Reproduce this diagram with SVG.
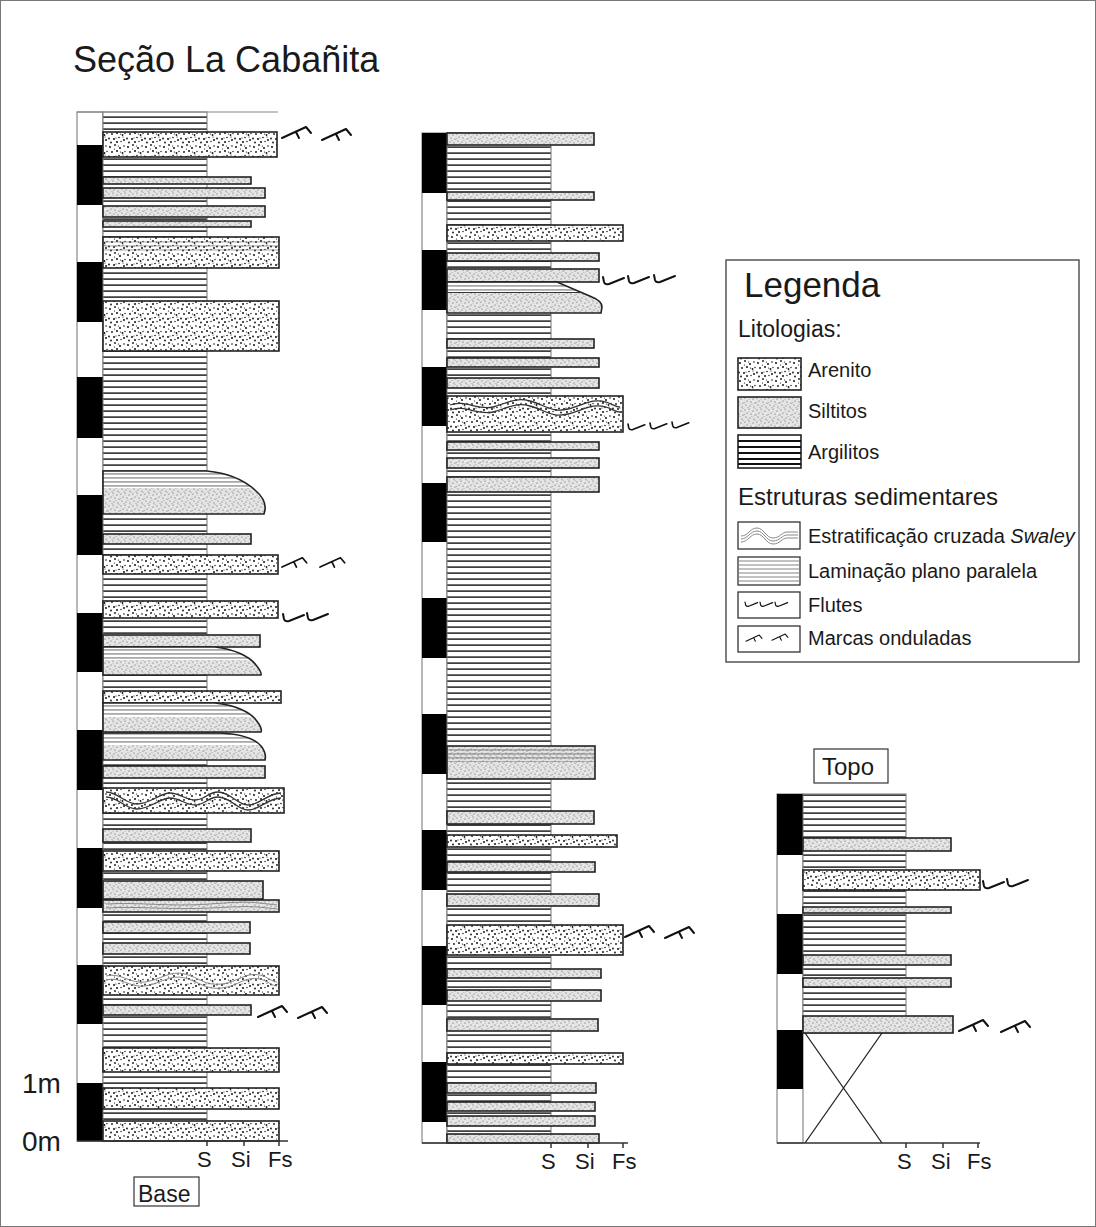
<svg xmlns="http://www.w3.org/2000/svg" xmlns:xlink="http://www.w3.org/1999/xlink" width="1096" height="1227" viewBox="0 0 1096 1227">
<style>
text{font-family:"Liberation Sans",Arial,sans-serif;fill:#1a1a1a}
.ar{fill:url(#pAr);stroke:#222;stroke-width:1.6}
.si{fill:url(#pSi);stroke:#222;stroke-width:1.6}
.arg{fill:url(#pArg);stroke:#777;stroke-width:1}
.bar{fill:#fff;stroke:#888;stroke-width:1.2}
.blk{fill:#000}
.ax{stroke:#333;stroke-width:1.5;fill:none}
.out{fill:none;stroke:#222;stroke-width:1.6}
.wv{fill:none;stroke:#333;stroke-width:1.3}
.wvl{fill:none;stroke:#888;stroke-width:1}
.lam{fill:url(#pLam)}
.lg{font-size:20px}
</style>
<defs>
<pattern id="pArg" width="10" height="6" patternUnits="userSpaceOnUse"><rect width="10" height="6" fill="#fff"/><rect y="2.4" width="10" height="1.4" fill="#111"/></pattern>
<pattern id="pLam" width="10" height="4" patternUnits="userSpaceOnUse"><rect y="1.5" width="10" height="0.9" fill="#555"/></pattern>
<pattern id="pAr" width="18" height="18" patternUnits="userSpaceOnUse">
<rect width="18" height="18" fill="#fff"/>
<g fill="#111">
<circle cx="2" cy="3" r="1"/><circle cx="7" cy="1" r="0.9"/><circle cx="12" cy="4" r="1"/><circle cx="16" cy="2" r="0.8"/>
<circle cx="4" cy="8" r="0.9"/><circle cx="9" cy="7" r="1"/><circle cx="14.5" cy="9" r="0.9"/><circle cx="1" cy="12.5" r="0.9"/>
<circle cx="6" cy="13" r="1"/><circle cx="11" cy="11.5" r="0.8"/><circle cx="16" cy="14" r="1"/><circle cx="3" cy="16.5" r="0.9"/>
<circle cx="9" cy="16" r="1"/><circle cx="13" cy="15.5" r="0.7"/><circle cx="17" cy="7.5" r="0.7"/><circle cx="10.5" cy="2" r="0.6"/>
<circle cx="6.5" cy="5" r="0.6"/><circle cx="12.5" cy="8" r="0.6"/><circle cx="8" cy="12" r="0.6"/><circle cx="15" cy="11" r="0.6"/>
</g></pattern>
<pattern id="pSi" width="12" height="12" patternUnits="userSpaceOnUse">
<rect width="12" height="12" fill="#e4e4e4"/>
<g fill="#555">
<circle cx="1" cy="2" r="0.6"/><circle cx="5" cy="1" r="0.55"/><circle cx="9" cy="3" r="0.6"/><circle cx="3" cy="5" r="0.55"/>
<circle cx="7" cy="6" r="0.6"/><circle cx="11" cy="7" r="0.55"/><circle cx="2" cy="9" r="0.6"/><circle cx="6" cy="10" r="0.55"/>
<circle cx="10" cy="11" r="0.6"/><circle cx="4" cy="11.5" r="0.45"/>
</g>
<g fill="#999"><circle cx="8" cy="8.5" r="0.5"/><circle cx="0.5" cy="6.5" r="0.5"/><circle cx="11" cy="0.5" r="0.5"/><circle cx="5" cy="3.5" r="0.45"/></g>
<g fill="#fff"><circle cx="3" cy="2.5" r="0.6"/><circle cx="9.5" cy="5.5" r="0.6"/><circle cx="6.5" cy="12" r="0.5"/></g>
</pattern>
<path id="rip" d="M0,13 L24,2 L29,8 M14,7 L17,13" fill="none" stroke="#111" stroke-width="2" stroke-linecap="round" stroke-linejoin="round"/>
<path id="flt" d="M0,0 L1,5 Q2,8 6,7 L21,1" fill="none" stroke="#111" stroke-width="2" stroke-linecap="round" stroke-linejoin="round"/>
<clipPath id="cA"><path d="M103,471 H207 C228,473 245,481 255,490 C262,496 266,503 265,510 L264,514 H103 Z"/></clipPath>
<clipPath id="cB"><path d="M103,647 H215 C235,649 250,657 256,665 C260,670 262,673 261,675 H103 Z"/></clipPath>
<clipPath id="cC"><path d="M103,703 H215 C235,705 250,712 256,720 C260,725 262,730 261,732 H103 Z"/></clipPath>
<clipPath id="cD"><path d="M103,733 H220 C240,734 255,739 261,746 C265,751 266,756 265,760 H103 Z"/></clipPath>
<clipPath id="cE"><path d="M447,282 H557 L592,297 Q602,301 602,307 L601,313 H447 Z"/></clipPath>
</defs>

<rect x="0.5" y="0.5" width="1095" height="1226" fill="#fff" stroke="#777" stroke-width="1"/>

<g id="title"><text x="73" y="72" font-size="36">Seção La Cabañita</text></g>

<g id="col1">
<rect class="bar" x="77" y="112" width="26" height="1029"/>
<rect class="blk" x="77" y="145" width="26" height="60"/>
<rect class="blk" x="77" y="262" width="26" height="60"/>
<rect class="blk" x="77" y="377" width="26" height="61"/>
<rect class="blk" x="77" y="495" width="26" height="60"/>
<rect class="blk" x="77" y="613" width="26" height="59"/>
<rect class="blk" x="77" y="730" width="26" height="60"/>
<rect class="blk" x="77" y="848" width="26" height="60"/>
<rect class="blk" x="77" y="965" width="26" height="59"/>
<rect class="blk" x="77" y="1083" width="26" height="58"/>
<rect class="arg" x="103" y="112" width="104" height="1029"/>
<line x1="77" y1="112" x2="278" y2="112" stroke="#888" stroke-width="1.2"/>
<rect class="ar" x="103" y="132" width="174" height="25"/>
<rect class="si" x="103" y="177" width="148" height="7"/>
<rect class="si" x="103" y="188" width="162" height="10"/>
<rect class="si" x="103" y="206" width="162" height="11"/>
<rect class="si" x="103" y="221" width="148" height="6"/>
<rect class="ar" x="103" y="237" width="176" height="31"/>
<rect class="lam" x="104" y="239" width="174" height="13" opacity="0.6"/>
<rect class="ar" x="103" y="301" width="176" height="50"/>
<g clip-path="url(#cA)"><rect x="103" y="471" width="170" height="44" fill="#fff"/><rect class="lam" x="103" y="471" width="170" height="17"/><rect x="103" y="488" width="170" height="27" fill="url(#pSi)"/></g>
<path class="out" d="M103,471 H207 C228,473 245,481 255,490 C262,496 266,503 265,510 L264,514 H103 Z"/>
<rect class="si" x="103" y="534" width="148" height="10"/>
<rect class="ar" x="103" y="555" width="175" height="19"/>
<rect class="ar" x="103" y="601" width="175" height="17"/>
<rect class="si" x="103" y="635" width="157" height="12"/>
<g clip-path="url(#cB)"><rect x="103" y="647" width="170" height="30" fill="#fff"/><rect class="lam" x="103" y="647" width="170" height="13"/><rect x="103" y="660" width="170" height="16" fill="url(#pSi)"/></g>
<path class="out" d="M103,647 H215 C235,649 250,657 256,665 C260,670 262,673 261,675 H103 Z"/>
<rect class="ar" x="103" y="691" width="178" height="12"/>
<g clip-path="url(#cC)"><rect x="103" y="703" width="170" height="30" fill="#fff"/><rect class="lam" x="103" y="703" width="170" height="14"/><rect x="103" y="717" width="170" height="16" fill="url(#pSi)"/></g>
<path class="out" d="M103,703 H215 C235,705 250,712 256,720 C260,725 262,730 261,732 H103 Z"/>
<g clip-path="url(#cD)"><rect x="103" y="733" width="170" height="28" fill="#fff"/><rect class="lam" x="103" y="733" width="170" height="12"/><rect x="103" y="745" width="170" height="16" fill="url(#pSi)"/></g>
<path class="out" d="M103,733 H220 C240,734 255,739 261,746 C265,751 266,756 265,760 H103 Z"/>
<rect class="si" x="103" y="766" width="162" height="12"/>
<rect class="ar" x="103" y="788" width="181" height="25"/>
<path class="wv" d="M106,792 C118,792 125,804 137,804 C150,804 160,793 170,793 C180,793 185,800 195,800 C205,800 208,792 218,792 C230,792 238,805 248,805 C260,805 268,793 281,793"/>
<path class="wv" d="M106,797 C118,797 125,809 137,809 C150,809 160,798 170,798 C180,798 185,805 195,805 C205,805 208,797 218,797 C230,797 238,810 248,810 C260,810 268,798 281,798"/>
<rect class="si" x="103" y="829" width="148" height="13"/>
<rect class="ar" x="103" y="851" width="176" height="20"/>
<rect class="si" x="103" y="881" width="160" height="18"/>
<rect class="si" x="103" y="900" width="176" height="12"/>
<path class="wvl" d="M106,904 C140,902 170,907 210,904 S250,902 277,905"/>
<path class="wvl" d="M106,908 C140,906 170,910 210,908 S250,906 277,909"/>
<rect class="si" x="103" y="922" width="147" height="11"/>
<rect class="si" x="103" y="943" width="147" height="11"/>
<rect class="ar" x="103" y="966" width="176" height="29"/>
<path class="wvl" d="M106,976 C120,972 130,984 145,982 C160,980 170,970 185,974 C200,978 205,986 222,984 C238,982 245,972 260,975 C268,977 272,982 277,982"/>
<path class="wvl" d="M106,980 C120,976 130,988 145,986 C160,984 170,974 185,978 C200,982 205,990 222,988 C238,986 245,976 260,979 C268,981 272,986 277,986"/>
<rect class="si" x="103" y="1005" width="148" height="10"/>
<rect class="ar" x="103" y="1048" width="176" height="24"/>
<rect class="ar" x="103" y="1088" width="176" height="21"/>
<rect class="ar" x="103" y="1121" width="176" height="20"/>
<path class="ax" d="M77,1141 H288 M207,1141 V1146 M244,1141 V1146 M279,1141 V1146"/>
<use href="#rip" x="282" y="125"/>
<use href="#rip" x="322" y="127"/>
<use href="#rip" transform="translate(282,556) scale(0.85)"/>
<use href="#rip" transform="translate(320,556) scale(0.85)"/>
<use href="#flt" x="283" y="614"/>
<use href="#flt" x="307" y="613"/>
<use href="#rip" x="258" y="1004"/>
<use href="#rip" x="298" y="1005"/>
<text x="197" y="1167" font-size="22">S</text>
<text x="231" y="1167" font-size="22">Si</text>
<text x="268" y="1167" font-size="22">Fs</text>
<text x="22" y="1093" font-size="28">1m</text>
<text x="22" y="1151" font-size="28">0m</text>
</g>

<g id="base-label">
<rect x="134" y="1177" width="65" height="29" fill="#fff" stroke="#333" stroke-width="1.2"/>
<text x="138" y="1202" font-size="23">Base</text>
</g>

<g id="col2">
<rect class="bar" x="422" y="133" width="25" height="1010"/>
<rect class="blk" x="422" y="133" width="25" height="60"/>
<rect class="blk" x="422" y="250" width="25" height="60"/>
<rect class="blk" x="422" y="367" width="25" height="59"/>
<rect class="blk" x="422" y="483" width="25" height="59"/>
<rect class="blk" x="422" y="598" width="25" height="60"/>
<rect class="blk" x="422" y="714" width="25" height="60"/>
<rect class="blk" x="422" y="830" width="25" height="60"/>
<rect class="blk" x="422" y="946" width="25" height="59"/>
<rect class="blk" x="422" y="1062" width="25" height="60"/>
<rect class="arg" x="447" y="133" width="104" height="1010"/>
<rect class="si" x="447" y="133" width="147" height="12"/>
<rect class="si" x="447" y="192" width="147" height="8"/>
<rect class="ar" x="447" y="225" width="176" height="16"/>
<rect class="si" x="447" y="253" width="152" height="8"/>
<rect class="si" x="447" y="269" width="152" height="13"/>
<g clip-path="url(#cE)"><rect x="447" y="282" width="160" height="32" fill="#fff"/><rect class="lam" x="447" y="282" width="160" height="11"/><rect x="447" y="293" width="160" height="21" fill="url(#pSi)"/></g>
<path class="out" d="M447,282 H557 L592,297 Q602,301 602,307 L601,313 H447 Z"/>
<line x1="447" y1="292.5" x2="580" y2="292.5" stroke="#333" stroke-width="1"/>
<rect class="si" x="447" y="339" width="147" height="9"/>
<rect class="si" x="447" y="358" width="152" height="9"/>
<rect class="si" x="447" y="378" width="152" height="10"/>
<rect class="ar" x="447" y="396" width="176" height="36"/>
<path class="wv" d="M450,405 C465,399 478,411 493,407 C508,403 515,397 530,401 C545,405 552,413 568,409 C584,405 592,398 606,402 C612,404 616,407 620,407" stroke-width="1"/>
<path class="wv" d="M450,410 C465,404 478,416 493,412 C508,408 515,402 530,406 C545,410 552,418 568,414 C584,410 592,403 606,407 C612,409 616,412 620,412" stroke-width="1"/>
<rect class="si" x="447" y="442" width="152" height="8"/>
<rect class="si" x="447" y="458" width="152" height="10"/>
<rect class="si" x="447" y="477" width="152" height="15"/>
<rect class="si" x="447" y="746" width="148" height="33"/>
<rect class="lam" x="448" y="748" width="146" height="14" opacity="0.8"/>
<rect class="si" x="447" y="811" width="147" height="13"/>
<rect class="ar" x="447" y="835" width="170" height="12"/>
<rect class="si" x="447" y="862" width="148" height="10"/>
<rect class="si" x="447" y="894" width="152" height="12"/>
<rect class="ar" x="447" y="925" width="176" height="30"/>
<rect class="si" x="447" y="969" width="154" height="9"/>
<rect class="si" x="447" y="990" width="154" height="11"/>
<rect class="si" x="447" y="1019" width="151" height="12"/>
<rect class="ar" x="447" y="1053" width="176" height="11"/>
<rect class="si" x="447" y="1083" width="149" height="10"/>
<rect class="si" x="447" y="1102" width="148" height="9"/>
<rect class="si" x="447" y="1116" width="148" height="10"/>
<rect class="si" x="447" y="1134" width="152" height="9"/>
<path class="ax" d="M422,1143 H628 M551,1143 V1148 M588,1143 V1148 M623,1143 V1148"/>
<use href="#flt" x="603" y="277"/>
<use href="#flt" x="628" y="276"/>
<use href="#flt" x="654" y="275"/>
<use href="#flt" transform="translate(628,424) scale(0.8)"/>
<use href="#flt" transform="translate(650,423) scale(0.8)"/>
<use href="#flt" transform="translate(672,422) scale(0.8)"/>
<use href="#rip" x="625" y="924"/>
<use href="#rip" x="665" y="925"/>
<text x="541" y="1169" font-size="22">S</text>
<text x="575" y="1169" font-size="22">Si</text>
<text x="612" y="1169" font-size="22">Fs</text>
</g>

<g id="legend">
<rect x="726" y="260" width="353" height="402" fill="#fff" stroke="#555" stroke-width="1.5"/>
<text x="744" y="297" font-size="35">Legenda</text>
<text x="738" y="337" font-size="23">Litologias:</text>
<rect class="ar" x="738" y="358" width="63" height="32"/>
<text class="lg" x="808" y="377">Arenito</text>
<rect class="si" x="738" y="397" width="63" height="31"/>
<text class="lg" x="808" y="418">Siltitos</text>
<g>
<rect x="738" y="435" width="63" height="33" fill="#fff" stroke="#222" stroke-width="1.6"/>
<path d="M738,441 H801 M738,447 H801 M738,453 H801 M738,459 H801 M738,464 H801" stroke="#111" stroke-width="1.8"/>
</g>
<text class="lg" x="808" y="459">Argilitos</text>
<text x="738" y="505" font-size="24">Estruturas sedimentares</text>
<rect x="738" y="522" width="62" height="27" fill="#fff" stroke="#333" stroke-width="1.3"/>
<path class="wvl" d="M741,536 C748,536 750,528 757,528 C764,528 766,538 773,538 C780,538 782,532 787,532 L798,532"/>
<path class="wvl" d="M741,539 C748,539 750,531 757,531 C764,531 766,541 773,541 C780,541 782,535 787,535 L798,535"/>
<path class="wvl" d="M741,542 C748,542 750,534 757,534 C764,534 766,544 773,544 C780,544 782,538 787,538 L798,538"/>
<text class="lg" x="808" y="543">Estratificação cruzada <tspan font-style="italic">Swaley</tspan></text>
<rect x="738" y="557" width="62" height="28" fill="#fff" stroke="#333" stroke-width="1.3"/>
<path d="M739,561 H799 M739,565 H799 M739,569 H799 M739,573 H799 M739,577 H799 M739,581 H799" stroke="#777" stroke-width="0.9"/>
<text class="lg" x="808" y="578">Laminação plano paralela</text>
<rect x="738" y="592" width="62" height="26" fill="#fff" stroke="#333" stroke-width="1.3"/>
<use href="#flt" transform="translate(745,602) scale(0.6)"/>
<use href="#flt" transform="translate(760,602) scale(0.6)"/>
<use href="#flt" transform="translate(775,602) scale(0.6)"/>
<text class="lg" x="808" y="612">Flutes</text>
<rect x="738" y="626" width="62" height="26" fill="#fff" stroke="#333" stroke-width="1.3"/>
<use href="#rip" transform="translate(746,634) scale(0.55)"/>
<use href="#rip" transform="translate(772,633) scale(0.55)"/>
<text class="lg" x="808" y="645">Marcas onduladas</text>
</g>

<g id="topo-label">
<rect x="814" y="749" width="74" height="34" fill="#fff" stroke="#333" stroke-width="1.2"/>
<text x="822" y="775" font-size="24">Topo</text>
</g>

<g id="col3">
<rect class="bar" x="777" y="794" width="26" height="349"/>
<rect class="blk" x="777" y="794" width="26" height="61"/>
<rect class="blk" x="777" y="914" width="26" height="60"/>
<rect class="blk" x="777" y="1030" width="26" height="59"/>
<rect class="arg" x="803" y="794" width="103" height="239"/>
<rect class="si" x="803" y="838" width="148" height="13"/>
<rect class="ar" x="803" y="870" width="177" height="20"/>
<rect class="si" x="803" y="907" width="148" height="6"/>
<rect class="si" x="803" y="955" width="148" height="10"/>
<rect class="si" x="803" y="978" width="148" height="9"/>
<rect class="si" x="803" y="1016" width="150" height="17"/>
<path d="M805,1033 L882,1143 M882,1033 L805,1143" stroke="#222" stroke-width="1.3" fill="none"/>
<path class="ax" d="M777,1143 H980 M906,1143 V1148 M943,1143 V1148 M978,1143 V1148"/>
<use href="#flt" x="983" y="881"/>
<use href="#flt" x="1007" y="879"/>
<use href="#rip" x="959" y="1018"/>
<use href="#rip" x="1001" y="1019"/>
<text x="897" y="1169" font-size="22">S</text>
<text x="931" y="1169" font-size="22">Si</text>
<text x="967" y="1169" font-size="22">Fs</text>
</g>
</svg>
